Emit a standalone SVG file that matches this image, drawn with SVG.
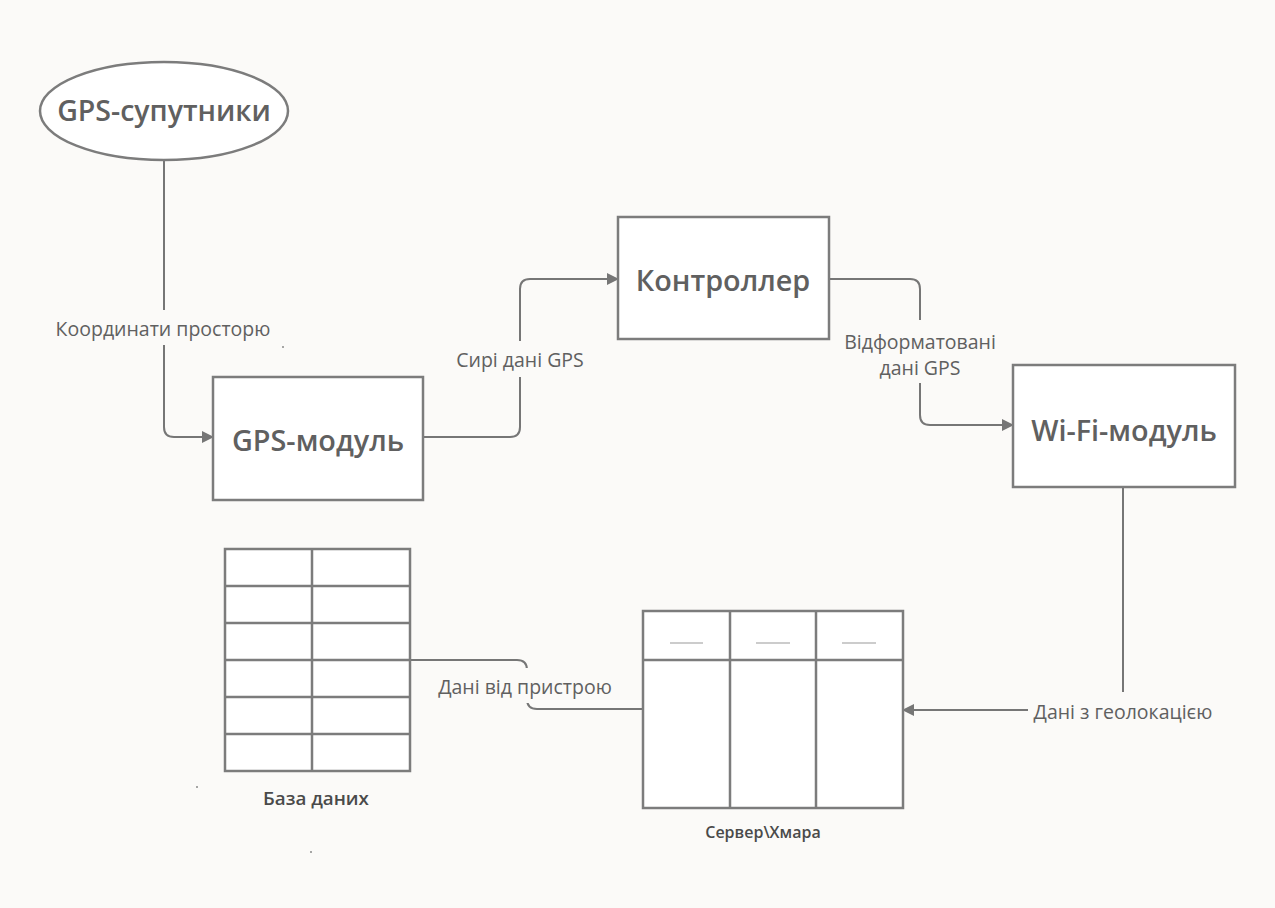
<svg xmlns="http://www.w3.org/2000/svg" width="1275" height="908" viewBox="0 0 1275 908">
  <defs>
    <marker id="arrow" viewBox="0 0 12 12" refX="11" refY="6" markerWidth="12" markerHeight="12" markerUnits="userSpaceOnUse" orient="auto">
      <path d="M0 0 L12 6 L0 12 Z" fill="#767676"/>
    </marker>
    <style>
      .bg { fill: #fbfaf8; }
      .box { fill: #ffffff; stroke: #7c7c7c; stroke-width: 2.5; }
      .grid { fill: none; stroke: #7c7c7c; stroke-width: 2.5; }
      .dash { stroke: #9a9a9a; stroke-width: 1.2; }
      .edge { fill: none; stroke: #767676; stroke-width: 2; }
      .title { font-family: "Open Sans", "Noto Sans", sans-serif; font-weight: 600; fill: #606060; text-anchor: middle; dominant-baseline: central; }
      .label { font-family: "Open Sans", "Noto Sans", sans-serif; font-size: 19.5px; fill: #606060; text-anchor: middle; dominant-baseline: central; }
      .caption { font-family: "Open Sans", "Noto Sans", sans-serif; font-weight: 600; fill: #4a4a4a; text-anchor: middle; dominant-baseline: central; }
      .dot { fill: #8a8a8a; }
    </style>
  </defs>

  <rect class="bg" x="0" y="0" width="1275" height="908"/>

  <!-- connectors -->
  <g id="connectors">
    <path class="edge" d="M164 160 V427 Q164 437 174 437 H213" marker-end="url(#arrow)"/>
    <path class="edge" d="M423 437 H510 Q520 437 520 427 V289 Q520 279 530 279 H618" marker-end="url(#arrow)"/>
    <path class="edge" d="M829 279 H910 Q920 279 920 289 V415 Q920 425 930 425 H1013" marker-end="url(#arrow)"/>
    <path class="edge" d="M1123 487 V700 Q1123 710 1113 710 H903" marker-end="url(#arrow)"/>
    <path class="edge" d="M643 709 H537 Q527 709 527 699 V670 Q527 660 517 660 H410"/>

    <!-- connector labels on background patches -->
    <rect class="bg" x="48" y="310" width="232" height="35"/>
    <text class="label" x="163" y="328">Координати просторю</text>

    <rect class="bg" x="450" y="341" width="140" height="36"/>
    <text class="label" x="520" y="359">Сирі дані GPS</text>

    <rect class="bg" x="838" y="320" width="166" height="63"/>
    <text class="label" x="920" y="341">Відформатовані</text>
    <text class="label" x="920" y="367">дані GPS</text>

    <rect class="bg" x="1028" y="692" width="192" height="38"/>
    <text class="label" x="1123" y="711">Дані з геолокацією</text>

    <rect class="bg" x="434" y="668" width="184" height="35"/>
    <text class="label" x="525" y="686">Дані від пристрою</text>
  </g>

  <!-- GPS satellites -->
  <g id="gps-satellites">
    <ellipse class="box" cx="164" cy="111" rx="124" ry="49"/>
    <text class="title" x="164" y="110" font-size="28.5">GPS-супутники</text>
  </g>

  <!-- GPS module -->
  <g id="gps-module">
    <rect class="box" x="213" y="377" width="210" height="123"/>
    <text class="title" x="318" y="439" font-size="28.8">GPS-модуль</text>
  </g>

  <!-- Controller -->
  <g id="controller">
    <rect class="box" x="618" y="217" width="211" height="122"/>
    <text class="title" x="723" y="279" font-size="28.8">Контроллер</text>
  </g>

  <!-- Wi-Fi module -->
  <g id="wifi-module">
    <rect class="box" x="1013" y="365" width="222" height="122"/>
    <text class="title" x="1124" y="429" font-size="28.8">Wi-Fi-модуль</text>
  </g>

  <!-- Server / cloud -->
  <g id="server">
    <rect class="box" x="643" y="611" width="260" height="197"/>
    <path class="grid" d="M643 660 H903 M730 611 V808 M816 611 V808"/>
    <path class="dash" d="M670 643 H703 M756 643 H790 M842 643 H876"/>
    <text class="caption" x="763" y="832" font-size="16">Сервер\Хмара</text>
  </g>

  <!-- Database -->
  <g id="database">
    <rect class="box" x="225" y="549" width="185" height="222"/>
    <path class="grid" d="M312 549 V771 M225 586 H410 M225 623 H410 M225 660 H410 M225 697 H410 M225 734 H410"/>
    <text class="caption" x="316" y="798" font-size="18.8">База даних</text>
  </g>

  <!-- stray points -->
  <circle class="dot" cx="283" cy="347" r="1"/>
  <circle class="dot" cx="197" cy="787" r="1"/>
  <circle class="dot" cx="311" cy="852" r="1"/>
</svg>
